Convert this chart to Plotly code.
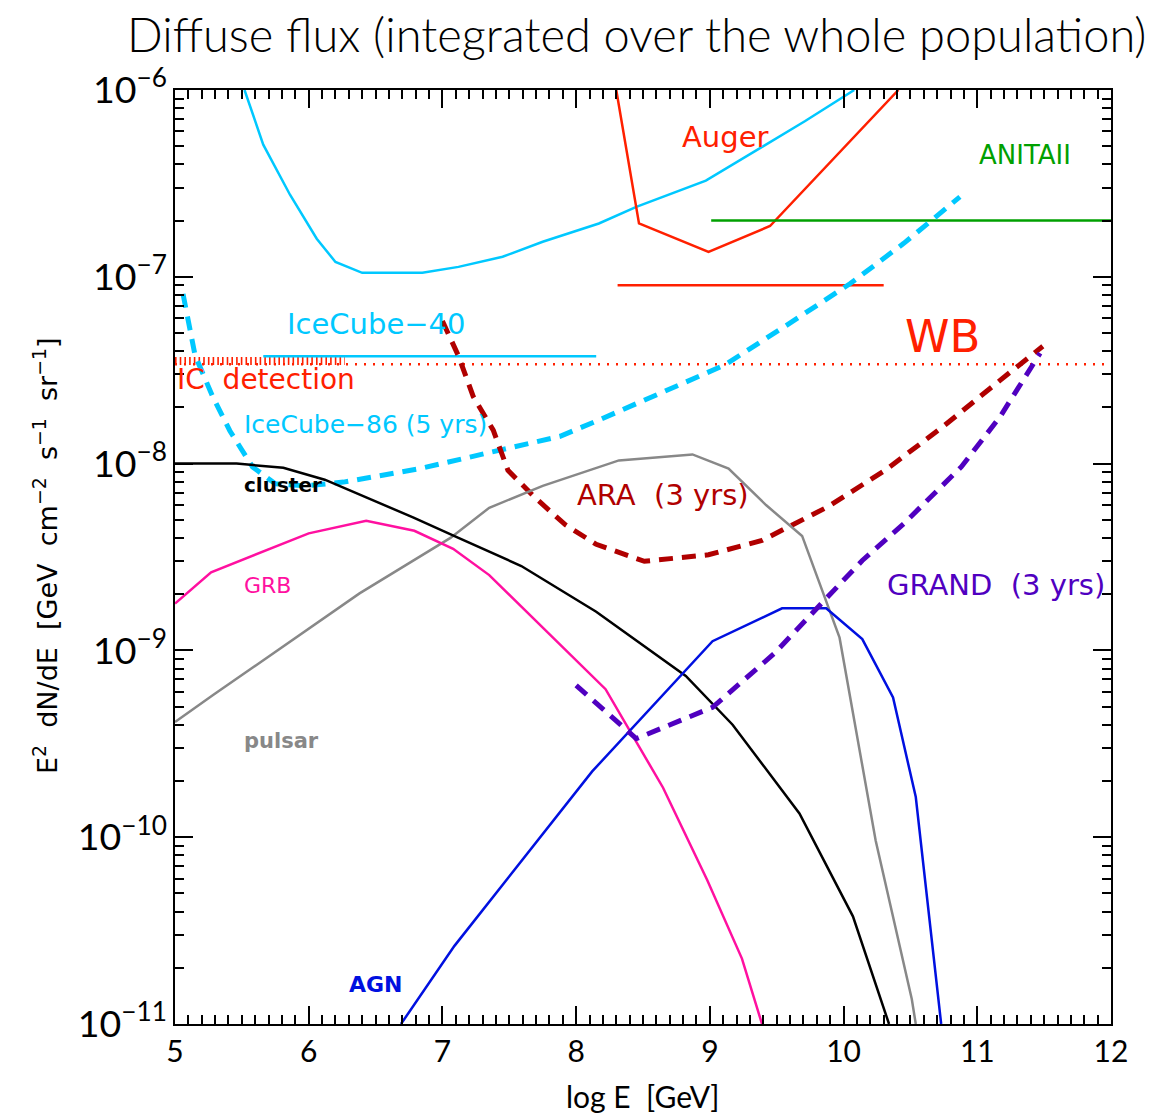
import plotly.graph_objects as go

# ---------------- data (log10 E [GeV], E^2 dN/dE [GeV cm^-2 s^-1 sr^-1]) ----------------
ic40_x = [5.52, 5.66, 5.86, 6.06, 6.20, 6.40, 6.85, 7.12, 7.45, 7.75, 8.17, 8.45, 8.97, 9.71, 10.08]
ic40_y = [1.0e-6, 5.1e-7, 2.75e-7, 1.6e-7, 1.2e-7, 1.05e-7, 1.05e-7, 1.13e-7, 1.28e-7, 1.54e-7,
          1.93e-7, 2.37e-7, 3.27e-7, 6.8e-7, 1.0e-6]
ic40_lim_x = [5.66, 8.15]
ic40_lim_y = [3.75e-8, 3.75e-8]

ic86_x = [5.06, 5.15, 5.28, 5.41, 5.58, 5.75, 5.98, 6.26, 6.83, 7.41, 7.88, 8.17, 8.57, 9.11,
          9.59, 10.05, 10.45, 10.87]
ic86_y = [8.1e-8, 3.8e-8, 2.3e-8, 1.5e-8, 9.6e-9, 7.8e-9, 7.6e-9, 7.96e-9, 9.4e-9, 1.18e-8,
          1.4e-8, 1.71e-8, 2.28e-8, 3.37e-8, 5.6e-8, 9.2e-8, 1.51e-7, 2.68e-7]

auger_x = [8.30, 8.47, 8.99, 9.45, 10.41]
auger_y = [1.0e-6, 1.93e-7, 1.36e-7, 1.87e-7, 1.0e-6]
auger_lim_x = [8.31, 10.30]
auger_lim_y = [9.0e-8, 9.0e-8]

anita_x = [9.01, 12.0]
anita_y = [2.0e-7, 2.0e-7]

wb_x = [5.0, 12.0]
wb_y = [3.4e-8, 3.4e-8]

icdet_x = [5.0, 6.27]
icdet_y = [3.54e-8, 3.54e-8]

ara_x = [7.00, 7.12, 7.23, 7.38, 7.49, 7.69, 7.92, 8.15, 8.51, 8.99, 9.39, 9.88, 10.31, 10.74,
         11.17, 11.49]
ara_y = [5.8e-8, 3.77e-8, 2.29e-8, 1.51e-8, 9.2e-9, 6.6e-9, 4.7e-9, 3.7e-9, 3.0e-9, 3.25e-9,
         3.88e-9, 5.86e-9, 9.2e-9, 1.57e-8, 2.79e-8, 4.25e-8]

grand_x = [8.00, 8.45, 9.02, 9.48, 9.88, 10.14, 10.45, 10.88, 11.17, 11.47]
grand_y = [6.5e-10, 3.37e-10, 4.96e-10, 9.6e-10, 1.93e-9, 3.03e-9, 4.77e-9, 9.6e-9, 1.78e-8, 3.9e-8]

cluster_x = [5.00, 5.46, 5.81, 6.12, 6.43, 6.78, 7.12, 7.59, 8.15, 8.82, 9.17, 9.67, 10.07, 10.34]
cluster_y = [1.0e-8, 1.0e-8, 9.5e-9, 8.2e-9, 6.6e-9, 5.15e-9, 4.0e-9, 2.83e-9, 1.61e-9, 7.3e-10,
             4.0e-10, 1.34e-10, 3.77e-11, 1.0e-11]

grb_x = [5.00, 5.27, 6.00, 6.43, 6.79, 7.08, 7.35, 7.98, 8.22, 8.65, 8.98, 9.24, 9.39]
grb_y = [1.78e-9, 2.62e-9, 4.23e-9, 4.94e-9, 4.37e-9, 3.5e-9, 2.53e-9, 9.1e-10, 6.2e-10,
         1.84e-10, 5.9e-11, 2.24e-11, 1.0e-11]

pulsar_x = [5.00, 5.29, 6.38, 7.06, 7.35, 7.75, 8.32, 8.87, 9.14, 9.42, 9.69, 9.97, 10.24, 10.51, 10.54]
pulsar_y = [4.14e-10, 5.8e-10, 2.02e-9, 4.0e-9, 5.8e-9, 7.6e-9, 1.04e-8, 1.12e-8, 9.4e-9, 6.0e-9,
            4.1e-9, 1.17e-9, 9.6e-11, 1.36e-11, 1.0e-11]

agn_x = [6.69, 7.09, 8.12, 9.02, 9.54, 9.87, 10.14, 10.37, 10.54, 10.73]
agn_y = [1.0e-11, 2.62e-11, 2.25e-10, 1.12e-9, 1.68e-9, 1.68e-9, 1.15e-9, 5.6e-10, 1.64e-10, 1.0e-11]

# label texts and anchor positions (log10 E, log10 flux)
labels = [
    ("Auger", 9.11, -6.25, "#FF2000", 29, "center", False),
    ("ANITAII", 11.36, -6.35, "#00A000", 26, "center", False),
    ("IceCube−40", 6.50, -7.25, "#00C8FF", 29, "center", False),
    ("WB", 10.74, -7.32, "#FF2000", 45, "center", False),
    ("IC  detection", 5.001, -7.55, "#FF2000", 28, "left", False),
    ("IceCube−86 (5 yrs)", 5.50, -7.79, "#00C8FF", 25, "left", False),
    ("cluster", 5.50, -8.115, "black", 20, "left", True),
    ("ARA  (3 yrs)", 7.99, -8.17, "#B00000", 29, "left", False),
    ("GRB", 5.50, -8.655, "#FF10A0", 22, "left", False),
    ("GRAND  (3 yrs)", 10.31, -8.65, "#5000C0", 29, "left", False),
    ("pulsar", 5.50, -9.485, "#888888", 21, "left", True),
    ("AGN", 6.29, -10.79, "#0010E0", 22, "left", True),
]

FONT = "DejaVu Sans"
TFONT = "Lato"

fig = go.Figure()

def line(x, y, color, width=2.5, dash="solid"):
    fig.add_trace(go.Scatter(x=x, y=y, mode="lines", showlegend=False,
                             line=dict(color=color, width=width, dash=dash),
                             hoverinfo="skip"))

line(icdet_x, icdet_y, "#FF2000", 8, "1.6px,3.1px")
line(wb_x, wb_y, "#FF2000", 2.5, "2px,7px")
line(ic40_x, ic40_y, "#00C8FF")
line(ic40_lim_x, ic40_lim_y, "#00C8FF")
line(auger_x, auger_y, "#FF2000")
line(auger_lim_x, auger_lim_y, "#FF2000")
line(anita_x, anita_y, "#00A000")
line(ic86_x, ic86_y, "#00C8FF", 5, "14px,9px")
line(ara_x, ara_y, "#B00000", 5, "14px,9px")
line(pulsar_x, pulsar_y, "#888888")
line(cluster_x, cluster_y, "black")
line(grb_x, grb_y, "#FF10A0")
line(agn_x, agn_y, "#0010E0")
line(grand_x, grand_y, "#5000C0", 5, "14px,9px")

for txt, lx, ly, col, sz, anc, bold in labels:
    fig.add_annotation(x=lx, y=ly, xref="x", yref="y", text=(f"<b>{txt}</b>" if bold else txt),
                       showarrow=False, xanchor=anc, yanchor="middle",
                       font=dict(family=FONT, size=sz, color=col))

# axis titles
fig.add_annotation(x=0.499, y=-0.077, xref="paper", yref="paper", text="log E  [GeV]",
                   showarrow=False, xanchor="center", yanchor="middle",
                   font=dict(family=TFONT, size=30, color="black"))
fig.add_annotation(x=-0.139, y=0.502, xref="paper", yref="paper", textangle=-90,
                   text="E<sup>2</sup>  dN/dE  [GeV  cm<sup>−2</sup>  s<sup>−1</sup>  sr<sup>−1</sup>]",
                   showarrow=False, xanchor="center", yanchor="middle",
                   font=dict(family=FONT, size=27, color="black"))

fig.update_layout(
    width=1162, height=1117,
    margin=dict(l=175, r=51, t=90, b=93),
    paper_bgcolor="white", plot_bgcolor="white",
    title=dict(text="Diffuse flux (integrated over the whole population)",
               x=0.548, xanchor="center", y=0.968, yanchor="middle",
               font=dict(family=TFONT, size=47, color="black", weight=300)),
    showlegend=False,
)
fig.update_xaxes(range=[5, 12], showgrid=False, zeroline=False,
                 showline=True, linecolor="black", linewidth=2, mirror="allticks",
                 ticks="inside", ticklen=18, tickwidth=2, tickcolor="black",
                 dtick=1, tick0=5, tickfont=dict(family=TFONT, size=30, color="black"),
                 minor=dict(ticks="inside", ticklen=9, tickwidth=1.5, dtick=0.1,
                            tickcolor="black", showgrid=False))
fig.update_yaxes(type="log", range=[-11, -6], showgrid=False, zeroline=False,
                 showline=True, linecolor="black", linewidth=2, mirror="allticks",
                 ticks="inside", ticklen=18, tickwidth=2, tickcolor="black",
                 dtick=1, exponentformat="power",
                 tickfont=dict(family=TFONT, size=30, color="black"),
                 minor=dict(ticks="inside", ticklen=9, tickwidth=1.5, dtick="D1",
                            tickcolor="black", showgrid=False))

fig.write_html("out.html")
